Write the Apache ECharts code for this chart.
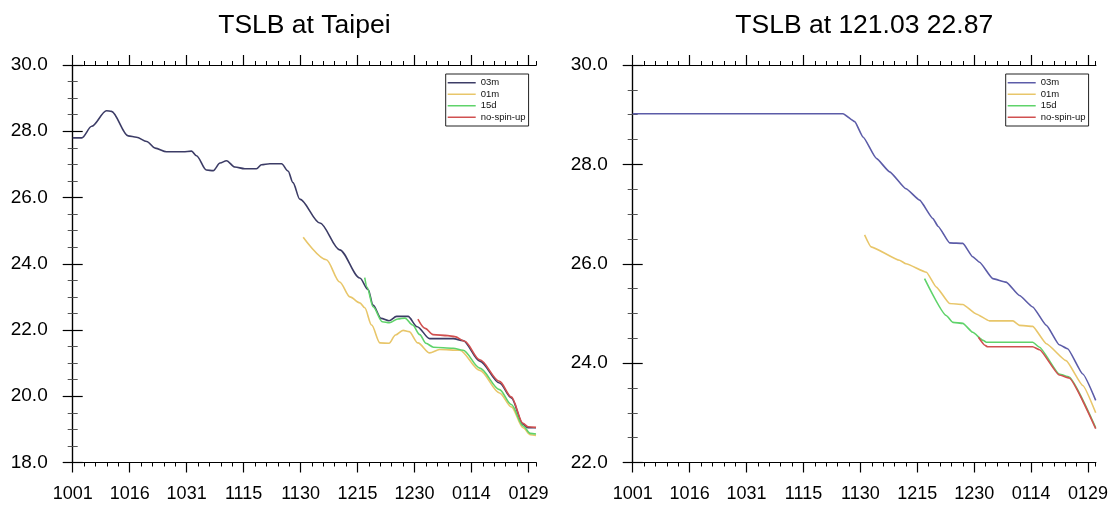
<!DOCTYPE html>
<html>
<head>
<meta charset="utf-8">
<script src="https://cdn.jsdelivr.net/npm/echarts@6/dist/echarts.min.js"></script>
<style>
html,body{margin:0;padding:0;background:#fff;}
#chart{width:1116px;height:507px;}
</style>
</head>
<body>
<div id="chart"></div>
<script>
// ---------- data ----------
// x = days since 1 Oct (0 = 1001, 122 = 0131)
var xTickValues = [0, 15, 30, 45, 60, 75, 90, 105, 120];
var xTickLabels = ['1001', '1016', '1031', '1115', '1130', '1215', '1230', '0114', '0129'];
var seriesNames = ['03m', '01m', '15d', 'no-spin-up'];

// Panel 1: TSLB at Taipei
var taipei03m = [[0,27.80],[2.4,27.80],[5,28.15],[8.9,28.62],[10.2,28.60],[14.6,27.86],[16.8,27.82],[19.5,27.69],[21.7,27.49],[24.7,27.38],[29.1,27.38],[31.3,27.40],[32.6,27.26],[35.2,26.83],[37,26.81],[38.8,27.04],[40.5,27.11],[42.7,26.92],[45.3,26.87],[48.4,26.87],[49.7,26.99],[51.9,27.02],[55,27.02],[56.7,26.80],[58,26.45],[59.8,25.95],[65.1,25.23],[70.3,24.42],[75.6,23.57],[77.8,23.22],[79.1,22.75],[81.2,22.35],[83.3,22.28],[85.3,22.41],[88.3,22.41],[90.7,22.10],[94,21.74],[100.2,21.74],[102.8,21.68],[107.2,21.06],[112.4,20.40],[115.5,19.95],[118.6,19.15],[119.9,19.05],[122,19.05]];
var taipei01m = [[60.7,24.80],[66.8,24.12],[70.3,23.45],[73,23.00],[75.6,22.82],[76.9,22.67],[78.7,22.15],[80.9,21.61],[83.3,21.60],[85,21.85],[87,21.99],[88.6,21.95],[90.9,21.61],[94,21.31],[96.6,21.41],[101.9,21.39],[107.2,20.78],[112.4,20.10],[115.5,19.68],[118.6,19.05],[120.5,18.84],[122,18.82]];
var taipei15d = [[76.9,23.58],[77.5,23.30],[79.1,22.70],[81.5,22.25],[83.4,22.22],[85.6,22.33],[87.5,22.36],[89.5,22.15],[91.4,21.86],[93,21.60],[95,21.48],[100.2,21.45],[102.8,21.39],[107.2,20.85],[112.4,20.20],[115.5,19.75],[118.6,19.10],[120.5,18.88],[122,18.86]];
var taipeiNoSpin = [[90.9,22.33],[92.8,22.05],[94.9,21.86],[98.8,21.83],[100.6,21.80],[103.2,21.66],[107.2,21.10],[112.4,20.45],[115.5,19.98],[118.6,19.18],[119.9,19.08],[122,19.06]];

// Panel 2: TSLB at 121.03 22.87
var pt03m = [[0,29.02],[55.4,29.02],[58.5,28.86],[60.7,28.55],[64.2,28.12],[67.7,27.85],[72,27.51],[75.6,27.28],[79.1,26.91],[80.5,26.75],[83.5,26.42],[87,26.41],[89.6,26.14],[91.4,26.03],[94.9,25.70],[98.4,25.63],[101.9,25.36],[105.4,25.13],[109,24.76],[112.4,24.37],[114.6,24.29],[118.6,23.78],[122,23.25]];
var pt01m = [[61.1,26.58],[62.8,26.34],[70.3,26.07],[72,26.00],[77.4,25.83],[80,25.53],[83.5,25.20],[87,25.18],[90.5,24.99],[94,24.85],[100.2,24.85],[101.9,24.76],[105.4,24.74],[109,24.39],[114.2,24.05],[118.6,23.55],[122,23.00]];
var pt15d = [[76.9,25.70],[82.6,24.96],[84.4,24.82],[87,24.80],[89.6,24.62],[92.3,24.46],[93.2,24.42],[105.4,24.42],[107.2,24.32],[112.4,23.78],[115,23.72],[122,22.70]];
var ptNoSpin = [[91.1,24.52],[92.8,24.36],[93.5,24.33],[105.4,24.33],[107.2,24.27],[112.4,23.76],[115,23.70],[122,22.68]];

// ---------- styling ----------
var FONT = '"Liberation Sans", Arial, Helvetica, sans-serif';
var colorsL = ['#3c3c66', '#e8c66a', '#5fd36a', '#d05050'];
var colorsR = ['#5c5ca8', '#e8c66a', '#5fd36a', '#d05050'];
var AX = '#000';

var grids = [
  {left: 72.7, top: 65, width: 463.3, height: 397.5},
  {left: 632.7, top: 65, width: 463, height: 397.5}
];

function xAxes(gi) {
  var base = {gridIndex: gi, type: 'value', min: 0, max: 122, splitLine: {show: false},
    axisLine: {show: true, lineStyle: {color: AX, width: 1.2}}};
  var major = function (pos, lab) {
    return Object.assign({}, base, {
      position: pos, interval: 15,
      axisTick: {show: true, length: 10, lineStyle: {color: AX, width: 1.2}, customValues: xTickValues},
      axisLabel: {show: lab, customValues: xTickValues, margin: 23, fontSize: 18, color: '#000', fontFamily: FONT,
        formatter: function (v) { var i = xTickValues.indexOf(v); return i >= 0 ? xTickLabels[i] : ''; }}
    });
  };
  var minor = function (pos) {
    return Object.assign({}, base, {
      position: pos, interval: 3,
      axisTick: {show: true, length: 4, lineStyle: {color: AX, width: 1}},
      axisLabel: {show: false}
    });
  };
  return [major('bottom', true), minor('bottom'), major('top', false), minor('top')];
}

function yAxes(gi, mn) {
  var mk = function (pos, lab) {
    return {gridIndex: gi, type: 'value', position: pos, min: mn, max: 30, interval: 2,
      splitLine: {show: false},
      axisLine: {show: true, lineStyle: {color: AX, width: 1.2}},
      axisTick: {show: true, length: 10, lineStyle: {color: AX, width: 1.2}},
      minorTick: {show: true, splitNumber: 4, length: 5, lineStyle: {color: '#555', width: 1}},
      axisLabel: {show: lab, margin: 25, fontSize: 19, color: '#000', fontFamily: FONT,
        formatter: function (v) { return v.toFixed(1); }}
    };
  };
  return [mk('left', true), mk('right', false)];
}

function mkSeries(name, data, color, xi, yi, smooth) {
  return {name: name, type: 'line', data: data, xAxisIndex: xi, yAxisIndex: yi,
    showSymbol: false, symbol: 'none', smooth: smooth, smoothMonotone: 'x',
    lineStyle: {color: color, width: 1.6}, itemStyle: {color: color}, silent: true, animation: false};
}

function legend(left, colors) {
  return {left: left, top: 74, orient: 'vertical', icon: 'rect', itemWidth: 28, itemHeight: 1.5, itemGap: 0,
    padding: [3, 3, 3, 2], borderColor: '#222', borderWidth: 1, backgroundColor: '#fff',
    selectedMode: false,
    textStyle: {fontSize: 9.5, lineHeight: 11.5, color: '#111', fontFamily: FONT},
    data: seriesNames.map(function (n, i) { return {name: n, itemStyle: {color: colors[i]}}; })
  };
}

var leftData = [taipei03m, taipei01m, taipei15d, taipeiNoSpin];
var rightData = [pt03m, pt01m, pt15d, ptNoSpin];

var series = [];
seriesNames.forEach(function (n, i) { series.push(mkSeries(n, leftData[i], colorsL[i], 0, 0, 0.3)); });
seriesNames.forEach(function (n, i) { series.push(mkSeries(n, rightData[i], colorsR[i], 4, 2, 0.15)); });

var option = {
  backgroundColor: '#fff',
  animation: false,
  title: [
    {text: 'TSLB at Taipei', left: 304.4, top: 12, textAlign: 'center', padding: 0,
      textStyle: {fontSize: 26.5, fontWeight: 'normal', color: '#000', fontFamily: FONT}},
    {text: 'TSLB at 121.03 22.87', left: 864.2, top: 12, textAlign: 'center', padding: 0,
      textStyle: {fontSize: 26.5, fontWeight: 'normal', color: '#000', fontFamily: FONT}}
  ],
  grid: grids,
  xAxis: xAxes(0).concat(xAxes(1)),
  yAxis: yAxes(0, 18).concat(yAxes(1, 22)),
  legend: [legend(445.7, colorsL), legend(1005.7, colorsR)],
  series: series
};

var chart = echarts.init(document.getElementById('chart'), null, {renderer: 'canvas'});
chart.setOption(option);
</script>
</body>
</html>
